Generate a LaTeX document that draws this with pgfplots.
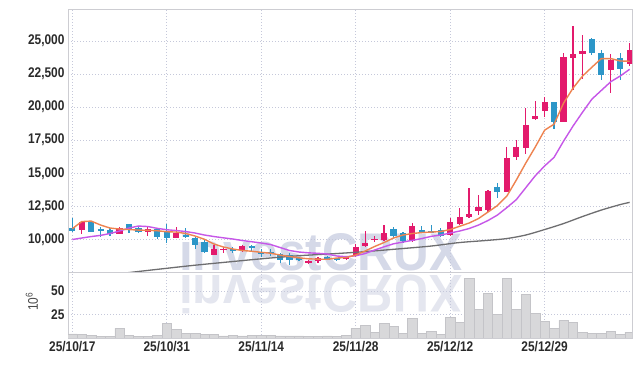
\documentclass[border=0pt]{standalone}
\usepackage{pgfplots}
\pgfplotsset{compat=1.18}
\usepackage{pgfplotstable}
\usepackage{fontspec}
\setmainfont{Liberation Sans}
\newfontfamily\tickfont{Liberation Sans}[FakeStretch=0.85]
\newfontfamily\wmfont{Liberation Sans}
\definecolor{upc}{HTML}{E31A6C}
\definecolor{dnc}{HTML}{2C96C8}
\definecolor{ma5}{HTML}{EE8350}
\definecolor{ma10}{HTML}{C657E8}
\definecolor{ma60}{HTML}{6E6E70}
\definecolor{gridc}{HTML}{C5C8DA}
\definecolor{framec}{HTML}{CDCDD2}
\definecolor{volc}{HTML}{D8D8DA}
\definecolor{volb}{HTML}{C4C4C8}
\definecolor{wm}{HTML}{D5D9E8}
\definecolor{wm2}{HTML}{E4E6EF}
\definecolor{tickc}{HTML}{2A2A2A}

\pgfplotstableread{
i o h l c
1 10680 11405 10423 11284
5 10423 10900 10400 10876
8 10574 10900 10250 10778
11 10121 10951 10100 10453
15 8792 9547 8790 9245
16 9220 9440 8943 9250
18 9192 9592 9018 9494
25 8270 8440 8100 8300
26 8340 8700 8200 8600
29 8580 8720 8450 8620
30 8740 9650 8650 9420
31 9494 10627 9450 9698
32 9980 10270 9800 10010
33 9947 11080 9900 10500
36 9900 11200 9830 11000
40 10325 11630 10240 11284
41 11156 12341 11050 11707
42 11662 13852 11580 11934
43 12115 13346 11835 12463
44 12213 13720 12100 13670
46 13595 16949 13550 16118
47 16193 17500 16000 16994
48 16873 19970 16440 18633
49 19085 20468 19010 19310
50 19713 20770 19260 20370
52 18883 24124 18850 23768
53 23746 26110 21300 24048
54 24048 25430 22140 24245
57 22840 24000 21030 23542
59 23240 24850 23100 24300
}\up

\pgfplotstableread{
i o h l c
0 10876 11608 10550 10650
2 11284 11330 10530 10574
3 10720 10950 10200 10700
4 10700 10830 10250 10377
6 11133 11180 10450 10755
7 10876 10950 10450 10574
9 10755 10830 10050 10174
10 10574 11133 9698 10075
12 10300 10850 10100 10250
13 10121 10180 9245 9570
14 9819 10000 8950 9063
17 9220 9396 8988 9192
19 9460 9547 9063 9430
20 9063 9245 8640 8890
21 9071 9300 8750 8943
22 8890 8988 8187 8437
23 8814 8943 8059 8437
24 8560 8640 8330 8400
27 8700 8760 8400 8450
28 8520 8600 8350 8500
34 10755 10950 10120 10250
35 10453 10530 9750 9900
37 10670 11000 10580 10640
38 10590 11100 10450 10560
39 10700 10850 10200 10272
45 13927 14230 13100 13550
51 20370 20400 18308 18860
55 25180 25200 23950 24100
56 24124 24300 22085 22462
58 23746 24124 22030 22886
}\down

\pgfplotstableread{
i v
0 4.5
1 3.8
2 3.0
3 2.0
4 2.0
5 10.2
6 3.0
7 2.0
8 2.0
9 3.0
10 15.5
11 9.5
12 4.9
13 4.9
14 4.0
15 4.0
16 2.2
17 3.0
18 2.2
19 3.0
20 3.0
21 3.0
22 2.2
23 2.2
24 2.2
25 1.8
26 1.8
27 2.2
28 1.8
29 2.8
30 10.2
31 13.5
32 6.0
33 15.5
34 12.7
35 4.9
36 20.7
37 4.9
38 7.0
39 4.2
40 21.8
41 16.5
42 63.0
43 30.6
44 47.1
45 25.3
46 63.0
47 30.6
48 46.1
49 26.0
50 17.9
51 10.2
52 18.6
53 16.5
54 6.0
55 4.9
56 4.9
57 7.0
58 4.2
59 6.0
}\vol

\pgfplotstableread{
i m
0 10800
1 11345
2 11380
3 11080
4 10853
5 10780
6 10740
7 10700
8 10680
9 10650
10 10574
11 10550
12 10440
13 10250
14 10000
15 9645
16 9420
17 9268
18 9154
19 9100
20 9018
21 8950
22 8814
23 8700
24 8600
25 8527
26 8500
27 8490
28 8587
29 8625
30 8814
31 9116
32 9456
33 9758
34 10100
35 10325
36 10440
37 10513
38 10550
39 10590
40 10740
41 10989
42 11231
43 11571
44 12062
45 12553
46 13270
47 14480
48 15763
49 16970
50 18256
51 18709
52 20295
53 21428
54 22335
55 23015
56 23670
57 23670
58 23490
59 23467
}\maA

\pgfplotstableread{
i m
0 9985
1 10100
2 10210
3 10300
4 10440
5 10627
6 10853
7 11005
8 10967
9 10830
10 10725
11 10665
12 10590
13 10476
14 10325
15 10211
16 10113
17 10023
18 9910
19 9819
20 9720
21 9607
22 9380
23 9154
24 9040
25 8980
26 8943
27 8890
28 8740
29 8686
30 8754
31 8927
32 9192
33 9434
34 9660
35 9796
36 9924
37 10060
38 10226
39 10325
40 10476
41 10627
42 10815
43 11080
44 11420
45 11835
46 12400
47 13000
48 13900
49 14800
50 15550
51 16200
52 17420
53 18560
54 19600
55 20600
56 21260
57 21920
58 22350
59 22860
}\maB

\pgfplotstableread{
i m
0 7001
3 7228
5 7402
7 7568
10 7810
13 8044
17 8323
20 8527
24 8761
28 8927
31 9071
35 9305
38 9494
41 9758
44 9924
46 10060
48 10325
50 10740
52 11193
54 11722
56 12213
58 12628
59 12795
}\maC

\pgfplotsset{
  common/.style={
    scale only axis, width=564pt,
    xmin=-0.455, xmax=59.25,
    xtick={0,10,20,30,40,50},
    scaled y ticks=false, scaled x ticks=false,
    grid=major,
    major grid style={draw=gridc, line width=0.6pt, dash pattern=on 1pt off 2pt},
    major tick length=0pt,
    axis line style={draw=framec, line width=0.8pt},
    tick label style={font=\tickfont\bfseries\fontsize{14pt}{14pt}\selectfont, text=tickc},
  }
}

\begin{document}
\begin{tikzpicture}
\useasboundingbox (0,0) rectangle (642pt,366pt);
\fill[white] (0,0) rectangle (642pt,366pt);
\node[anchor=base west, inner sep=0pt, font=\wmfont\bfseries\fontsize{53pt}{53pt}\selectfont, text=wm, xscale=0.934] at (179pt,95pt) {investCRUX};
\node[anchor=base west, inner sep=0pt, font=\wmfont\bfseries\fontsize{53pt}{53pt}\selectfont, text=wm2, xscale=0.934, yscale=-1] at (179pt,90pt) {investCRUX};

\begin{axis}[common,
  at={(68pt,94pt)}, anchor=south west, height=263pt,
  ymin=7530, ymax=27420,
  xticklabels={},
  ytick={10000,12500,15000,17500,20000,22500,25000},
  yticklabels={{10,000},{12,500},{15,000},{17,500},{20,000},{22,500},{25,000}},
]
% wicks
\addplot[draw=none, forget plot, error bars/.cd, y dir=both, y explicit, error mark=none,
  error bar style={draw=upc, line width=1.2pt}]
  table[x=i, y expr={(\thisrow{h}+\thisrow{l})/2}, y error expr={(\thisrow{h}-\thisrow{l})/2}] {\up};
\addplot[draw=none, forget plot, error bars/.cd, y dir=both, y explicit, error mark=none,
  error bar style={draw=dnc, line width=1.2pt}]
  table[x=i, y expr={(\thisrow{h}+\thisrow{l})/2}, y error expr={(\thisrow{h}-\thisrow{l})/2}] {\down};
% bodies
\addplot[draw=none, forget plot, error bars/.cd, y dir=both, y explicit, error mark=none,
  error bar style={draw=upc, line width=6.2pt}]
  table[x=i, y expr={(\thisrow{o}+\thisrow{c})/2}, y error expr={max(abs(\thisrow{c}-\thisrow{o})/2,55)}] {\up};
\addplot[draw=none, forget plot, error bars/.cd, y dir=both, y explicit, error mark=none,
  error bar style={draw=dnc, line width=6.2pt}]
  table[x=i, y expr={(\thisrow{o}+\thisrow{c})/2}, y error expr={max(abs(\thisrow{c}-\thisrow{o})/2,55)}] {\down};
% moving averages
\addplot[ma60, line width=1.3pt, smooth] table[x=i,y=m] {\maC};
\addplot[ma10, line width=1.4pt] table[x=i,y=m] {\maB};
\addplot[ma5, line width=1.4pt] table[x=i,y=m] {\maA};
\end{axis}

\begin{axis}[common,
  at={(68pt,28pt)}, anchor=south west, height=66pt,
  ymin=0, ymax=70,
  xticklabels={25/10/17,25/10/31,25/11/14,25/11/28,25/12/12,25/12/29},
  ytick={25,50}, yticklabels={25,50},
  ylabel={10\textsuperscript{6}},
  ylabel style={at={(axis description cs:-0.064,0.55)}, anchor=center, rotate=0,
    font=\tickfont\fontsize{14pt}{14pt}\selectfont, text=tickc!85},
]
\addplot[ybar, bar width=9.45pt, fill=volc, draw=volb, line width=0.5pt] table[x=i,y=v] {\vol};
\end{axis}
\end{tikzpicture}
\end{document}
